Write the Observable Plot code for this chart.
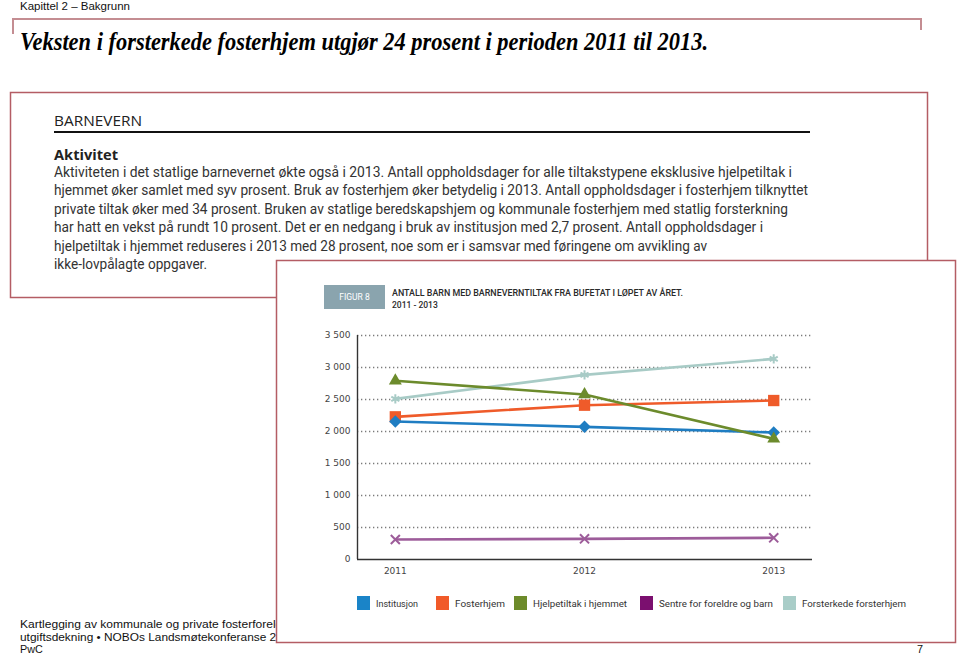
<!DOCTYPE html>
<html>
<head>
<meta charset="utf-8">
<script src="https://cdn.jsdelivr.net/npm/d3@7"></script>
<script src="https://cdn.jsdelivr.net/npm/@observablehq/plot@0.6"></script>
<style>
  html, body { margin: 0; padding: 0; background: #fff; }
  #slide { position: relative; width: 960px; height: 656px; overflow: hidden; background: #fff; }
  #bg { position: absolute; left: 0; top: 0; }
  #chart { position: absolute; left: 300px; top: 325px; }
</style>
</head>
<body>
<div id="slide">
  <svg id="bg" width="960" height="656"></svg>
  <div id="chart"></div>
</div>
<script>
// ---------- DATA ----------
const years = [2011, 2012, 2013];
const seriesNames = ["Institusjon", "Fosterhjem", "Hjelpetiltak i hjemmet", "Sentre for foreldre og barn", "Forsterkede forsterhjem"];
const institusjon = [2156, 2073, 1984];
const fosterhjem = [2229, 2411, 2484];
const hjelpetiltak = [2792, 2578, 1885];
const sentre = [312, 323, 339];
const forsterkede = [2510, 2885, 3135];
const yTicks = [0, 500, 1000, 1500, 2000, 2500, 3000, 3500];
const xTicks = [2011, 2012, 2013];

const lineColors = ["#1f7dc2", "#ef5b2a", "#6c8b2c", "#9d5c9a", "#a8cbc6"];
const swatchColors = ["#1a84c8", "#f15a29", "#6d8b2a", "#7b0f6f", "#a9cdc8"];
const symbols = ["diamond2", "square", "triangle", "times", "asterisk"];
const symbolR = [5.6, 6.4, 4.8, 4.2, 4.4];
const drawOrder = [4, 1, 0, 2, 3];

// text content
const headerText = "Kapittel 2 – Bakgrunn";
const titleText = "Veksten i forsterkede fosterhjem utgjør 24 prosent i perioden 2011 til 2013.";
const sectionTitle = "BARNEVERN";
const subTitle = "Aktivitet";
const paragraphLines = [
  "Aktiviteten i det statlige barnevernet økte også i 2013. Antall oppholdsdager for alle tiltakstypene eksklusive hjelpetiltak i",
  "hjemmet øker samlet med syv prosent. Bruk av fosterhjem øker betydelig i 2013. Antall oppholdsdager i fosterhjem tilknyttet",
  "private tiltak øker med 34 prosent. Bruken av statlige beredskapshjem og kommunale fosterhjem med statlig forsterkning",
  "har hatt en vekst på rundt 10 prosent. Det er en nedgang i bruk av institusjon med 2,7 prosent. Antall oppholdsdager i",
  "hjelpetiltak i hjemmet reduseres i 2013 med 28 prosent, noe som er i samsvar med føringene om avvikling av",
  "ikke-lovpålagte oppgaver."
];
const paragraphWidths = [738, 754, 734, 709, 653, 153];
const figLabel = "FIGUR 8";
const figTitle = ["ANTALL BARN MED BARNEVERNTILTAK FRA BUFETAT I LØPET AV ÅRET.", "2011 - 2013"];
const footerLines = ["Kartlegging av kommunale og private fosterforeldres", "utgiftsdekning • NOBOs Landsmøtekonferanse 2014", "PwC"];
const footerWidths = [279, 276, null];
const pageNumber = "7";

const seriesValues = [institusjon, fosterhjem, hjelpetiltak, sentre, forsterkede];
const rows = [];
seriesValues.forEach((vals, i) => vals.forEach((v, j) => rows.push({series: seriesNames[i], year: years[j], value: v})));

// ---------- BACKGROUND SLIDE ----------
const bg = d3.select("#bg");
const red = "#b45d64";
function txt(x, y, s, o = {}) {
  const t = bg.append("text").attr("x", x).attr("y", y).text(s)
    .attr("font-family", o.family || "Liberation Sans, Arial, sans-serif")
    .attr("font-size", o.size || 12)
    .attr("fill", o.fill || "#000");
  if (o.weight) t.attr("font-weight", o.weight);
  if (o.style) t.attr("font-style", o.style);
  if (o.anchor) t.attr("text-anchor", o.anchor);
  if (o.len) t.attr("textLength", o.len).attr("lengthAdjust", "spacingAndGlyphs");
  return t;
}

// header
txt(20, 10, headerText, {size: 11.5, fill: "#111"});
bg.append("path").attr("d", "M13,34 V19 H921 V30").attr("fill", "none").attr("stroke", "#c48d92").attr("stroke-width", 2);
txt(20, 50, titleText, {family: "Liberation Serif, DejaVu Serif, serif", size: 25, weight: "bold", style: "italic", len: 688});

// footer (beneath box 2)
footerLines.forEach((s, i) => {
  txt(20, 628 + i * 12.5, s, {size: 10.8, fill: "#111", len: footerWidths[i]});
});
txt(917, 653, pageNumber, {size: 10.8, fill: "#111"});

// box 1
bg.append("rect").attr("x", 10.5).attr("y", 92.5).attr("width", 917).attr("height", 205)
  .attr("fill", "#fff").attr("stroke", red).attr("stroke-width", 1.5);
txt(54, 126, sectionTitle, {family: "Open Sans, sans-serif", size: 15, fill: "#222", len: 88});
bg.append("line").attr("x1", 54).attr("x2", 810).attr("y1", 132).attr("y2", 132).attr("stroke", "#111").attr("stroke-width", 2);
txt(54, 160, subTitle, {family: "Open Sans, sans-serif", size: 14, weight: "bold", fill: "#222", len: 64});
paragraphLines.forEach((s, i) => {
  txt(54, 177 + i * 18.4, s, {family: "Roboto, Open Sans, sans-serif", size: 14, fill: "#333", len: paragraphWidths[i]});
});

// box 2
bg.append("rect").attr("x", 276.5).attr("y", 260.5).attr("width", 679).attr("height", 382)
  .attr("fill", "#fff").attr("stroke", red).attr("stroke-width", 1.5);
bg.append("rect").attr("x", 324).attr("y", 285).attr("width", 61).attr("height", 24).attr("fill", "#8aa4ae");
txt(354.5, 300, figLabel, {family: "Roboto, sans-serif", size: 8.5, fill: "#fff", anchor: "middle"});
txt(392, 296, figTitle[0], {family: "Roboto, sans-serif", size: 8.5, weight: "500", fill: "#2a2a2a", len: 291});
txt(392, 308, figTitle[1], {family: "Roboto, sans-serif", size: 8.5, weight: "500", fill: "#2a2a2a"});

// legend
const swatchX = [357, 436, 514, 640, 783];
const labelLens = [42, 50, 94, 114, 104];
seriesNames.forEach((name, i) => {
  bg.append("rect").attr("x", swatchX[i]).attr("y", 596).attr("width", 13).attr("height", 14).attr("fill", swatchColors[i]);
  txt(swatchX[i] + 19, 607, name, {family: "Roboto, sans-serif", size: 9.5, fill: "#333", len: labelLens[i]});
});

// ---------- CHART ----------
const fmt = d => d3.format(",")(d).replace(",", " ");
const xDomain = [2010.8, 2013.205];
const marks = [
  Plot.ruleY(yTicks.filter(d => d > 0), {stroke: "#7a7a7a", strokeOpacity: 1, strokeWidth: 1.3, strokeDasharray: "1.3,2.7"}),
  Plot.ruleY([0], {stroke: "#333", strokeWidth: 1.4}),
  Plot.ruleX([xDomain[0]], {stroke: "#333", strokeWidth: 1.4})
];
drawOrder.forEach(i => {
  const data = rows.filter(r => r.series === seriesNames[i]);
  marks.push(Plot.line(data, {x: "year", y: "value", stroke: lineColors[i], strokeWidth: 2.6}));
  const stroked = symbols[i] === "times" || symbols[i] === "asterisk";
  marks.push(Plot.dot(data, stroked
    ? {x: "year", y: "value", symbol: () => symbols[i], r: symbolR[i], stroke: lineColors[i], strokeWidth: 2, fill: "none"}
    : {x: "year", y: "value", symbol: () => symbols[i], r: symbolR[i], fill: lineColors[i], stroke: "none"}));
});

const chart = Plot.plot({
  width: 520,
  height: 255,
  marginLeft: 57,
  marginRight: 8,
  marginTop: 10,
  marginBottom: 21,
  symbol: {type: "identity"},
  x: {type: "linear", domain: xDomain, ticks: xTicks, tickFormat: d => String(d), tickSize: 0, tickPadding: 8, label: null},
  y: {domain: [yTicks[0], yTicks[yTicks.length - 1]], ticks: yTicks, tickFormat: fmt, tickSize: 0, tickPadding: 7, label: null},
  style: {fontFamily: "DejaVu Sans, sans-serif", fontSize: "9px", color: "#444", background: "transparent", overflow: "visible"},
  marks
});
document.getElementById("chart").appendChild(chart);
</script>
</body>
</html>
